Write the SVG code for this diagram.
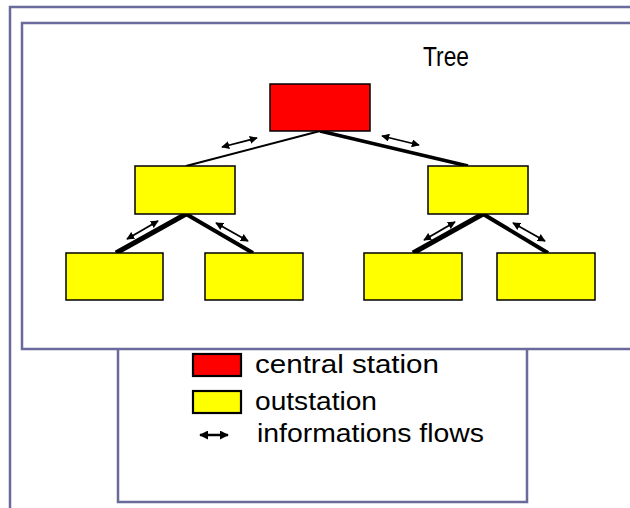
<svg xmlns="http://www.w3.org/2000/svg" width="630" height="508" viewBox="0 0 630 508">
  <style>
    .frame { fill: none; stroke: #6a6a9c; stroke-width: 2.5; }
    .central { fill: #ff0000; stroke: #000; stroke-width: 1.5; }
    .out { fill: #ffff00; stroke: #000; stroke-width: 1.5; }
    .key { stroke-width: 2.2; }
    .link { stroke: #000; stroke-linecap: butt; fill: none; }
    .flow { stroke: #000; stroke-width: 1.8; fill: none; marker-start: url(#head); marker-end: url(#head); }
    .label { font-family: "Liberation Sans", Arial, sans-serif; fill: #000; }
  </style>
  <defs>
    <marker id="head" viewBox="0 0 10 10" refX="9" refY="5" markerWidth="8" markerHeight="8" markerUnits="userSpaceOnUse" orient="auto-start-reverse">
      <path d="M0,0 L10,5 L0,10 Z" fill="#000"/>
    </marker>
    <marker id="keyhead" viewBox="0 0 10 10" refX="9" refY="5" markerWidth="9" markerHeight="9" markerUnits="userSpaceOnUse" orient="auto-start-reverse">
      <path d="M0,0 L10,5 L0,10 Z" fill="#000"/>
    </marker>
  </defs>

  <rect width="630" height="508" fill="#fff"/>

  <!-- page frames -->
  <g id="frames">
    <rect class="frame" x="10" y="7" width="700" height="600"/>
    <rect class="frame" x="22" y="23" width="700" height="326"/>
    <path class="frame" d="M118,349 V502 H527 V349"/>
  </g>

  <text class="label" x="423" y="66" font-size="27" textLength="46" lengthAdjust="spacingAndGlyphs">Tree</text>

  <!-- links between stations -->
  <g id="connectors">
    <line class="link" x1="320" y1="131" x2="186" y2="166" stroke-width="2"/>
    <line class="link" x1="320" y1="131" x2="468" y2="166" stroke-width="3.5"/>
    <line class="link" x1="186" y1="214" x2="116" y2="253" stroke-width="5"/>
    <line class="link" x1="186" y1="214" x2="253" y2="253" stroke-width="4"/>
    <line class="link" x1="483" y1="214" x2="413" y2="253" stroke-width="5"/>
    <line class="link" x1="483" y1="214" x2="548" y2="253" stroke-width="4"/>

    <line class="flow" x1="222" y1="147" x2="257" y2="138"/>
    <line class="flow" x1="382" y1="136" x2="419" y2="145"/>
    <line class="flow" x1="127" y1="239" x2="158" y2="221"/>
    <line class="flow" x1="216" y1="223" x2="248" y2="241"/>
    <line class="flow" x1="424" y1="240" x2="455" y2="222"/>
    <line class="flow" x1="513" y1="223" x2="545" y2="241"/>
  </g>

  <!-- stations -->
  <g id="central"><rect class="central" x="270" y="84" width="100" height="47"/></g>
  <g id="out-left"><rect class="out" x="135" y="166" width="100" height="48"/></g>
  <g id="out-right"><rect class="out" x="428" y="166" width="100" height="48"/></g>
  <g id="out-ll"><rect class="out" x="66" y="253" width="97" height="47"/></g>
  <g id="out-lr"><rect class="out" x="205" y="253" width="98" height="47"/></g>
  <g id="out-rl"><rect class="out" x="364" y="253" width="98" height="47"/></g>
  <g id="out-rr"><rect class="out" x="497" y="253" width="98" height="47"/></g>

  <!-- legend -->
  <g id="legend">
    <rect class="central key" x="193" y="354" width="48" height="22"/>
    <text class="label" x="255" y="373" font-size="25" textLength="184" lengthAdjust="spacingAndGlyphs">central station</text>
    <rect class="out key" x="193" y="391" width="48" height="22"/>
    <text class="label" x="255" y="410" font-size="25" textLength="122" lengthAdjust="spacingAndGlyphs">outstation</text>
    <line x1="200" y1="435" x2="228" y2="435" stroke="#000" stroke-width="2.5" marker-start="url(#keyhead)" marker-end="url(#keyhead)"/>
    <text class="label" x="257" y="442" font-size="25" textLength="227" lengthAdjust="spacingAndGlyphs">informations flows</text>
  </g>
</svg>
